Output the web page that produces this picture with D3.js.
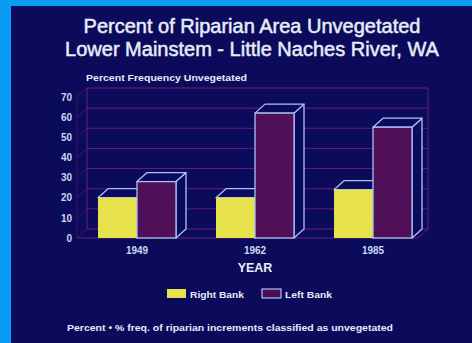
<!DOCTYPE html>
<html>
<head>
<meta charset="utf-8">
<script src="https://cdn.jsdelivr.net/npm/d3@7/dist/d3.min.js"></script>
<style>
  html, body { margin: 0; padding: 0; background: #0a9cf5; }
  svg { display: block; }
  text { font-family: "Liberation Sans", Arial, Helvetica, sans-serif; }
</style>
</head>
<body>
<svg id="chart" width="472" height="343"></svg>
<script>
// Data
const years = ["1949", "1962", "1985"];
const series = ["Right Bank", "Left Bank"];
const rightBank = [20, 20, 24];
const leftBank = [28, 62, 55];
const yTicks = [0, 10, 20, 30, 40, 50, 60, 70];

const W = 472, H = 343;
const svg = d3.select("#chart");

const navy = "#0c0a5b";
const textColor = "#e6ecf8";
const tickColor = "#c9d8f2";
const gridColor = "#681e70";
const outline = "#a9c2f6";
const yellow = "#e7e24c";
const purple = "#4c0d55";

// Frame: blue border on left and top, navy panel
svg.append("rect").attr("width", W).attr("height", H).attr("fill", "#0a9cf5");
svg.append("rect").attr("x", 11).attr("y", 6).attr("width", W - 11).attr("height", H - 6).attr("fill", navy);

// Hatch for the left-bank bars
const defs = svg.append("defs");
const pat = defs.append("pattern")
  .attr("id", "hatch").attr("patternUnits", "userSpaceOnUse")
  .attr("width", 3).attr("height", 3)
  .attr("patternTransform", "rotate(45)");
pat.append("rect").attr("width", 3).attr("height", 3).attr("fill", purple);
pat.append("line").attr("x1", 0).attr("y1", 0).attr("x2", 0).attr("y2", 3)
  .attr("stroke", "#611a6a").attr("stroke-width", 1);

// Titles
svg.append("text").attr("x", 252).attr("y", 33).attr("text-anchor", "middle")
  .attr("font-size", 20).attr("fill", textColor)
  .attr("stroke", textColor).attr("stroke-width", 0.5)
  .text("Percent of Riparian Area Unvegetated");
svg.append("text").attr("x", 252).attr("y", 56).attr("text-anchor", "middle")
  .attr("font-size", 20).attr("fill", textColor)
  .attr("stroke", textColor).attr("stroke-width", 0.5)
  .text("Lower Mainstem - Little Naches River, WA");

svg.append("text").attr("x", 86).attr("y", 81)
  .attr("font-size", 9.5).attr("font-weight", "bold").attr("fill", textColor)
  .attr("textLength", 161).attr("lengthAdjust", "spacingAndGlyphs")
  .text("Percent Frequency Unvegetated");

// Scales
const y = d3.scaleLinear().domain([0, 70]).range([238, 97]);
const x0 = d3.scaleBand().domain(years).range([78, 432]).paddingInner(0.339).paddingOuter(0.1695);
const x1 = d3.scaleBand().domain(series).range([0, x0.bandwidth()]);
const dx = 10, dy = 9;
const leftX = 77, rightX = 418;

// 3D grid: back wall, left wall, floor edge
const grid = svg.append("g").attr("stroke", gridColor).attr("fill", "none").attr("stroke-width", 1);
yTicks.forEach(v => {
  grid.append("line").attr("x1", leftX + dx).attr("x2", rightX + dx)
    .attr("y1", y(v) - dy).attr("y2", y(v) - dy);
  grid.append("line").attr("x1", leftX).attr("x2", leftX + dx)
    .attr("y1", y(v)).attr("y2", y(v) - dy).attr("opacity", 0.6);
});
grid.append("line").attr("x1", leftX + dx).attr("x2", leftX + dx).attr("y1", y(70) - dy).attr("y2", y(0) - dy);
grid.append("line").attr("x1", rightX + dx).attr("x2", rightX + dx).attr("y1", y(70) - dy).attr("y2", y(0) - dy);
grid.append("line").attr("x1", leftX).attr("x2", leftX).attr("y1", y(70)).attr("y2", y(0)).attr("opacity", 0.5);
grid.append("line").attr("x1", leftX).attr("x2", rightX).attr("y1", y(0)).attr("y2", y(0));
grid.append("line").attr("x1", rightX).attr("x2", rightX + dx).attr("y1", y(0)).attr("y2", y(0) - dy);

// Y axis labels
const yAxis = d3.axisLeft(y).tickValues(yTicks).tickSize(0).tickPadding(0);
const ya = svg.append("g").attr("transform", "translate(72,0)").call(yAxis);
ya.select(".domain").remove();
ya.selectAll("text").attr("font-size", 10).attr("font-weight", "bold")
  .attr("fill", tickColor).attr("font-family", "Liberation Sans, Arial, sans-serif");

// 3D bars
function bar(g, x, w, v, front, isRight) {
  const top = y(v), base = y(0);
  // side face
  g.append("path")
    .attr("d", `M${x + w},${base} L${x + w + dx},${base - dy} L${x + w + dx},${top - dy} L${x + w},${top} Z`)
    .attr("fill", navy).attr("stroke", outline).attr("stroke-width", 1.3).attr("stroke-linejoin", "round");
  // top face
  g.append("path")
    .attr("d", `M${x},${top} L${x + dx},${top - dy} L${x + w + dx},${top - dy} L${x + w},${top} Z`)
    .attr("fill", navy).attr("stroke", outline).attr("stroke-width", 1.3).attr("stroke-linejoin", "round");
  // front face
  g.append("rect").attr("x", x).attr("y", top).attr("width", w).attr("height", base - top)
    .attr("fill", front)
    .attr("stroke", isRight ? "none" : outline).attr("stroke-width", 1.3);
}

years.forEach((yr, i) => {
  const g = svg.append("g");
  const w = x1.bandwidth();
  bar(g, x0(yr) + x1("Right Bank"), w, rightBank[i], yellow, true);
  bar(g, x0(yr) + x1("Left Bank"), w, leftBank[i], "url(#hatch)", false);
});

// X axis labels
const xAxis = d3.axisBottom(x0).tickSize(0).tickPadding(0);
const xa = svg.append("g").attr("transform", "translate(0,247)").call(xAxis);
xa.select(".domain").remove();
xa.selectAll("text").attr("font-size", 10).attr("font-weight", "bold")
  .attr("fill", tickColor).attr("font-family", "Liberation Sans, Arial, sans-serif");

svg.append("text").attr("x", 255).attr("y", 272).attr("text-anchor", "middle")
  .attr("font-size", 12.5).attr("font-weight", "bold").attr("fill", textColor)
  .text("YEAR");

// Legend
const legend = [
  { label: series[0], fill: yellow, stroke: "none", x: 167, len: 54 },
  { label: series[1], fill: purple, stroke: outline, x: 262, len: 47 }
];
legend.forEach(d => {
  svg.append("rect").attr("x", d.x).attr("y", 289).attr("width", 19).attr("height", 9)
    .attr("fill", d.fill).attr("stroke", d.stroke).attr("stroke-width", 1.2);
  svg.append("text").attr("x", d.x + 23).attr("y", 297.5)
    .attr("font-size", 9.5).attr("font-weight", "bold").attr("fill", textColor)
    .attr("textLength", d.len).attr("lengthAdjust", "spacingAndGlyphs")
    .text(d.label);
});

// Footnote
svg.append("text").attr("x", 67).attr("y", 331)
  .attr("font-size", 9.5).attr("font-weight", "bold").attr("fill", textColor)
  .attr("textLength", 326).attr("lengthAdjust", "spacingAndGlyphs")
  .text("Percent \u2022 % freq. of riparian increments classified as unvegetated");
</script>
</body>
</html>
